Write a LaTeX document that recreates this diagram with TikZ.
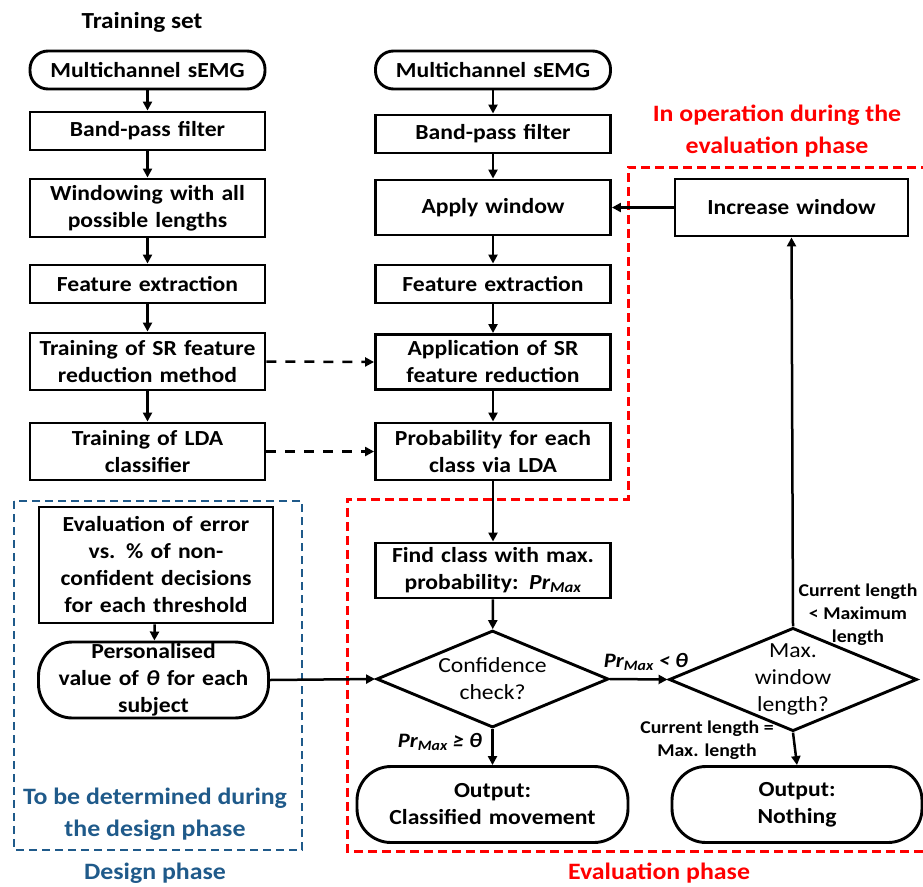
\documentclass[tikz,border=0pt]{standalone}
\usepackage{fontspec}
\setmainfont{Carlito}[FakeStretch=1.1]
\usetikzlibrary{shapes.geometric,arrows.meta}

\begin{document}
\begin{tikzpicture}[
    x=1pt,
    y=-1pt,
    line join=miter,
    font=\fontsize{21.5}{27}\selectfont\bfseries
]

\definecolor{DesignBlue}{HTML}{1F5A8A}
\definecolor{EvalRed}{HTML}{FF0000}

\tikzset{
    proc box/.style={
        draw=black,
        line width=2.9pt,
        minimum width=235pt,
        minimum height=#1,
        text width=230pt,
        align=center,
        inner sep=0pt
    },
    proc box/.default=38pt,
    term box/.style={
        proc box=38pt,
        rounded corners=18pt
    },
    out box/.style={
        proc box=76pt,
        minimum width=#1,
        rounded corners=34pt
    },
    check/.style={
        diamond,
        draw=black,
        line width=2.9pt,
        minimum width=232pt,
        minimum height=97pt,
        aspect=2.4,
        inner sep=0pt,
        align=center,
        font=\fontsize{21.5}{27}\selectfont
    },
    flow/.style={
        draw=black,
        line width=2.5pt,
        -{Triangle[length=9pt,width=9pt]}
    },
    link/.style={
        flow,
        dash pattern=on 10pt off 9pt
    },
    branch/.style={
        align=center,
        font=\fontsize{18}{23}\selectfont\bfseries
    },
    phase/.style={
        text=#1,
        align=center,
        font=\fontsize{23.5}{32}\selectfont\bfseries
    }
}

\useasboundingbox (0,0) rectangle (923,886);

\node[font=\fontsize{23}{27}\selectfont\bfseries] (ttitle) at (142,22) {Training set};

\node[term box] (tsem) at (147.5,70) {Multichannel sEMG};
\node[proc box] (tbpf) at (147.5,131) {Band-pass filter};
\node[proc box=58pt] (twin) at (147.5,208) {Windowing with all\\possible lengths};
\node[proc box] (tfe) at (147.5,284) {Feature extraction};
\node[proc box=57pt] (tsr) at (147.5,361.5) {Training of SR feature\\reduction method};
\node[proc box=57pt] (tlda) at (147.5,451.5) {Training of LDA\\classifier};

\node[term box] (esem) at (493,70) {Multichannel sEMG};
\node[proc box] (ebpf) at (493,134) {Band-pass filter};
\node[proc box=55pt] (eapp) at (493,207.5) {Apply window};
\node[proc box] (efe) at (493,284) {Feature extraction};
\node[proc box=55pt] (esr) at (493,362) {Application of SR\\feature reduction};
\node[proc box=57pt] (eprob) at (493,451.5) {Probability for each\\class via LDA};
\node[proc box=55pt] (efind) at (493,570.5) {Find class with max.\\probability: \textit{Pr\textsubscript{Max}}};
\node[check] (conf) at (492.5,679) {Confidence\\check?};
\node[out box=271pt] (eout) at (492.5,804.5) {Output:\\Classified movement};

\node[proc box=57pt, minimum width=233pt] (incw) at (791.5,207.5) {Increase window};
\node[check] (maxw) at (793,679.5) {Max.\\window\\length?};
\node[out box=250pt] (nout) at (797,804.5) {Output:\\Nothing};

\node[proc box=116pt, minimum width=234pt] (deval) at (156,565) {Evaluation of error\\vs. \% of non-\\confident decisions\\for each threshold};
\node[proc box=76pt, minimum width=223pt, rounded corners=34pt] (dpers) at (153.5,680) {Personalised\\value of \textit{θ} for each\\subject};

\node[branch, font=\fontsize{20.5}{24}\selectfont\bfseries\itshape] (lyes) at (440,742) {Pr\textsubscript{Max} ≥ θ};
\node[branch, font=\fontsize{20.5}{24}\selectfont\bfseries\itshape] (lno) at (646,662) {Pr\textsubscript{Max} < θ};
\node[branch] (lgrow) at (858,615) {Current length\\< Maximum\\length};
\node[branch] (lstop) at (707,740) {Current length =\\Max. length};

\node[phase=EvalRed] (topnote) at (777,131) {In operation during the\\evaluation phase};
\node[phase=DesignBlue] (dnote) at (155,814) {To be determined during\\the design phase};
\node[phase=DesignBlue] (dphase) at (155,873) {Design phase};
\node[phase=EvalRed] (ephase) at (659,873) {Evaluation phase};

\draw[DesignBlue, line width=2.9pt, dash pattern=on 8pt off 5pt] (14,501) rectangle (302,850);
\draw[EvalRed, line width=3pt, dash pattern=on 9pt off 5pt] (930,167) -- (628,167) -- (628,499) -- (347,499) -- (347,851) -- (930,851);

\foreach \a/\b in {tsem/tbpf,tbpf/twin,twin/tfe,tfe/tsr,tsr/tlda,esem/ebpf,ebpf/eapp,eapp/efe,efe/esr,esr/eprob,eprob/efind,efind/conf,deval/dpers} {
    \draw[flow] (\a) -- (\b);
}
\draw[flow] (conf.south) -- (eout.north);
\draw[flow] (conf.east) -- (maxw.west);
\draw[flow] (maxw.north) -- (incw.south);
\draw[flow] (maxw.south) -- (nout.north);
\draw[flow] (incw.west) -- (eapp.east);
\draw[flow] (dpers.east) -- (conf.west);
\draw[link] (tsr.east) -- (esr.west);
\draw[link] (tlda.east) -- (eprob.west);

\end{tikzpicture}
\end{document}
